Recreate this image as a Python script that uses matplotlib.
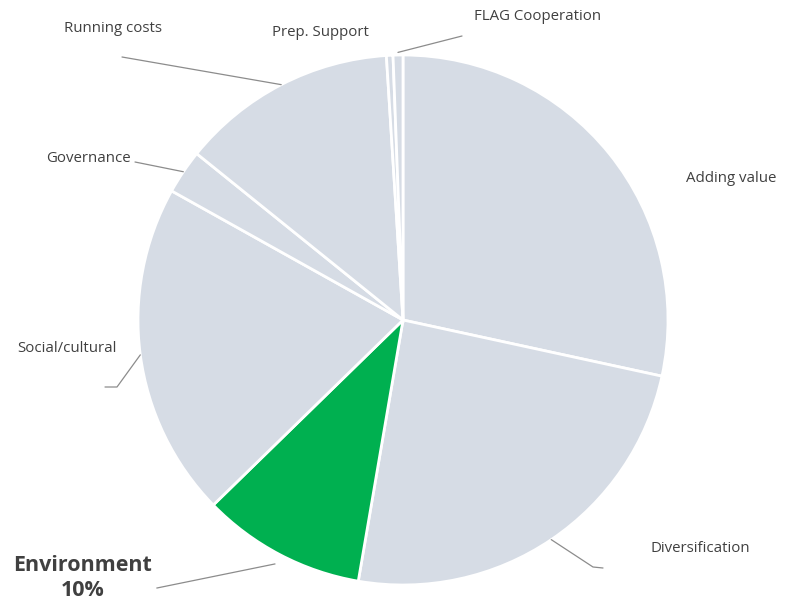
import matplotlib.pyplot as plt
import numpy as np

# budget share by measure, clockwise from 12 o'clock
labels = ['Adding value', 'Diversification', 'Environment', 'Social/cultural',
          'Governance', 'Running costs', 'Prep. Support', 'FLAG Cooperation']
shares = [28.4, 24.3, 10.0, 20.4, 2.7, 13.2, 0.4, 0.6]
highlight = 'Environment'

W, H = 789, 614
cx, cy, R = 403, H - 320, 265

fig = plt.figure(figsize=(W / 100, H / 100), dpi=100, facecolor='white')
ax = fig.add_axes([0, 0, 1, 1])

colors = ['#00B050' if l == highlight else '#D6DCE5' for l in labels]
wedges, _ = ax.pie(shares, colors=colors, startangle=90, counterclock=False,
                   center=(cx, cy), radius=R, frame=True,
                   wedgeprops=dict(edgecolor='white', linewidth=2))
ax.set_xlim(0, W)
ax.set_ylim(0, H)
ax.set_aspect('equal')
ax.axis('off')

mid = {l: np.deg2rad((w.theta1 + w.theta2) / 2) for l, w in zip(labels, wedges)}

def rim(name, r=1.0):
    a = mid[name]
    return cx + R * r * np.cos(a), cy + R * r * np.sin(a)

font = 'Open Sans'
tc = '#404040'
lc = '#8c8c8c'

def label(name, x, y, path=None, r=1.0, **kw):
    ax.text(x, H - y, name, ha='center', va='center', color=tc,
            family=font, fontsize=10.8, **kw)
    if path:
        px, py = rim(name, r)
        xs = [px] + [p[0] for p in path]
        ys = [py] + [H - p[1] for p in path]
        ax.plot(xs, ys, color=lc, lw=0.9, solid_capstyle='round')

label('Adding value', 731, 178)
label('Diversification', 700, 549, path=[(593, 567), (603, 568)])
label('Social/cultural', 67, 348, path=[(117, 387), (105, 387)])
label('Governance', 88, 158, path=[(135, 162)])
label('Running costs', 113, 28, path=[(122, 57)])
label('Prep. Support', 320, 32)
label('FLAG Cooperation', 538, 16, path=[(462, 36)], r=1.01)

# highlighted slice gets a bold label with its share
env_share = shares[labels.index(highlight)]
ax.text(83, H - 578, f'{highlight}\n{env_share:.0f}%', ha='center', va='center',
        color=tc, family=font, fontsize=15.5, fontweight='bold', linespacing=1.2)
px, py = rim(highlight, 1.04)
ax.plot([px, 157], [py, H - 588], color=lc, lw=0.9)

fig.savefig('out.png', dpi=100, facecolor='white')
